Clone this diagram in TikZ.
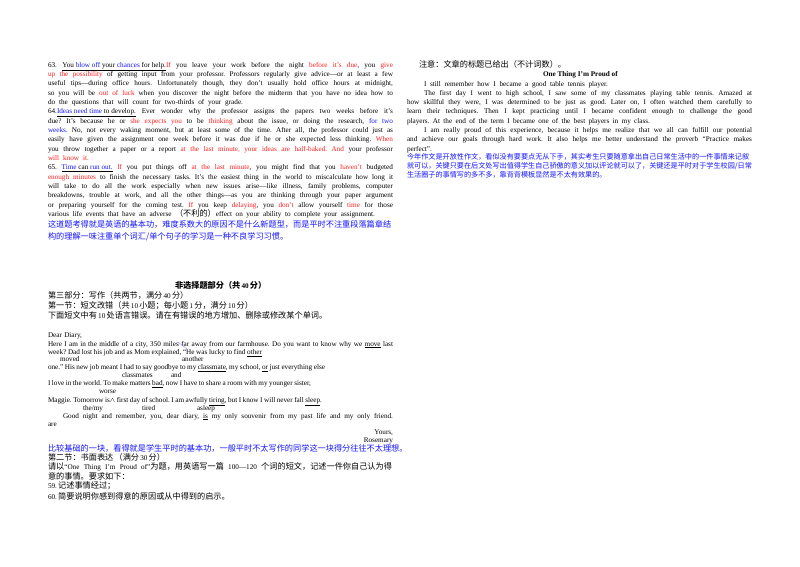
\documentclass[tikz,border=0pt]{standalone}
\usepackage{xcolor}
\usepackage{fontspec}
\setmainfont{Liberation Serif}
\newfontfamily\cjk[Scale=1.135]{Noto Sans CJK SC}
\newfontfamily\cjksmall[Scale=0.99]{Noto Sans CJK SC}
\XeTeXlinebreaklocale "zh"
\XeTeXlinebreakskip=0pt plus 2pt minus 0.5pt
\definecolor{notered}{RGB}{255,30,30}
\definecolor{noteblue}{RGB}{20,20,255}
\tikzset{txtline/.style={anchor=base west,inner sep=0pt,outer sep=0pt,font=\fontsize{7.2}{8}\selectfont\frenchspacing}}
\newcommand{\cj}[1]{{\cjk #1}}
\newcommand{\cs}[1]{{\cjksmall #1}}
\newcommand{\rd}[1]{\textcolor{notered}{#1}}
\newcommand{\bl}[1]{\textcolor{noteblue}{#1}}
\newcommand{\jl}[5]{\node[txtline] (#1) at (#2,#3) {\makebox[#4pt][s]{#5}};}

\begin{document}
\begin{tikzpicture}[x=1pt,y=-1pt]
  \useasboundingbox (0,0) rectangle (800,566);
  % left column, passage
  \jl{a1}{48}{67}{345}{63. \underline{You \bl{blow off} your \bl{chances} for help.}\rd{If} you leave your work before the night \rd{before it's due}, you \rd{give}}
  \jl{a2}{48}{76.4}{345}{\rd{up the possibility} of getting input from your professor. Professors regularly give advice---or at least a few}
  \jl{a3}{48}{85.7}{345}{useful tips---during office hours. Unfortunately though, they don't usually hold office hours at midnight,}
  \jl{a4}{48}{95}{345}{so you will be \rd{out of luck} when you discover the night before the midterm that you have no idea how to}
  \jl{a5}{48}{104.3}{195}{do the questions that will count for two-thirds of your grade.}
  \jl{a6}{48}{113.6}{345}{64.\underline{\bl{Ideas need time} to develop.} Ever wonder why the professor assigns the papers two weeks before it's}
  \jl{a7}{48}{123}{345}{due? It's because he or \rd{she expects you} to be \rd{thinking} about the issue, or doing the research, \bl{for two}}
  \jl{a8}{48}{132.3}{345}{\bl{weeks.} No, not every waking moment, but at least some of the time. After all, the professor could just as}
  \jl{a9}{48}{141.6}{345}{easily have given the assignment one week before it was due if he or she expected less thinking. \rd{When}}
  \jl{a10}{48}{151}{345}{you throw together a paper or a report \rd{at the last minute, your ideas are half-baked. And} your professor}
  \jl{a11}{48}{160.3}{41}{\rd{will know it.}}
  \jl{a12}{48}{169.8}{345}{65. \underline{\bl{Time} can \bl{run out.}} \rd{If} you put things off \rd{at the last minute}, you might find that you \rd{haven't} budgeted}
  \jl{a13}{48}{179}{345}{\rd{enough minutes} to finish the necessary tasks. It's the easiest thing in the world to miscalculate how long it}
  \jl{a14}{48}{188.4}{345}{will take to do all the work especially when new issues arise---like illness, family problems, computer}
  \jl{a15}{48}{197.7}{345}{breakdowns, trouble at work, and all the other things---as you are thinking through your paper argument}
  \jl{a16}{48}{207}{345}{or preparing yourself for the coming test. \rd{If} you keep \rd{delaying}, you \rd{don't} allow yourself \rd{time} for those}
  \jl{a17}{48}{216.4}{327}{various life events that have an adverse \cj{（不利的）}effect on your ability to complete your assignment.}
  \jl{a18}{48}{227.5}{344}{\bl{\cj{这道题考得就是英语的基本功，难度系数大的原因不是什么新题型，而是平时不注重段落篇章结}}}
  \jl{a19}{48}{239}{234}{\bl{\cj{构的理解一味注重单个词汇/单个句子的学习是一种不良学习习惯。}}}
  % left column, writing section
  \jl{b1}{175}{288}{87}{\bfseries\cj{非选择题部分（共} 40 \cj{分）}}
  \jl{b2}{48}{298.5}{136}{\cj{第三部分：写作（共两节，满分} 40 \cj{分）}}
  \jl{b3}{48}{308}{203}{\cj{第一节：短文改错（共} 10 \cj{小题；每小题} 1 \cj{分，满分} 10 \cj{分）}}
  \jl{b4}{48}{318}{273}{\cj{下面短文中有} 10 \cj{处语言错误。请在有错误的地方增加、删除或修改某个单词。}}
  \jl{c1}{48}{337}{34}{Dear Diary,}
  \jl{c2}{48}{346}{345}{Here I am in the middle of a city, 350 miles far away from our farmhouse. Do you want to know why we \underline{move} last}
  \jl{c3}{48}{354.5}{214}{week? Dad lost his job and as Mom explained, ``He was lucky to find \underline{other}}
  \node[txtline] (c4) at (60,361.5) {moved};
  \node[txtline] (c5) at (182,361.5) {another};
  \jl{c6}{48}{369.5}{277}{one.'' His new job meant I had to say goodbye to my \underline{classmate}, my school, \underline{or} just everything else}
  \node[txtline] (c7) at (122,377.5) {classmates};
  \node[txtline] (c8) at (171,377.5) {and};
  \jl{c9}{48}{385.5}{263}{I love in the world. To make matters \underline{bad}, now I have to share a room with my younger sister,}
  \node[txtline] (c10) at (99,393.5) {worse};
  \jl{c11}{48}{402}{274}{Maggie. Tomorrow is$\wedge$ first day of school. I am awfully \underline{tiring}, but I know I will never fall \underline{sleep}.}
  \node[txtline] (c12) at (83,410) {the/my};
  \node[txtline] (c13) at (142,410) {tired};
  \node[txtline] (c14) at (197,410) {asleep};
  \jl{c15}{63}{418}{330}{Good night and remember, you, dear diary, \underline{is} my only souvenir from my past life and my only friend.}
  \node[txtline] (c16) at (48,426.5) {are};
  \node[txtline,anchor=base east] (c17) at (393,434.5) {Yours,};
  \node[txtline,anchor=base east] (c18) at (393,442.5) {Rosemary};
  \jl{c19}{48}{451}{308}{\bl{\cj{比较基础的一块，看得就是学生平时的基本功，一般平时不太写作的同学这一块得分往往不太理想。}}}
  \jl{d1}{48}{460}{114}{\cj{第二节：书面表达 （满分} 30 \cj{分）}}
  \jl{d2}{48}{469.5}{344}{\cj{请以}``One Thing I'm Proud of''\cj{为题，用英语写一篇} 100---120 \cj{个词的短文，记述一件你自己认为得}}
  \jl{d3}{48}{479}{75}{\cj{意的事情。要求如下：}}
  \jl{d4}{48}{488.5}{65}{59. \cj{记述事情经过；}}
  \jl{d5}{48}{499}{177}{60. \cj{简要说明你感到得意的原因或从中得到的启示。}}
  \draw[noteblue!50,thin] (178,342) -- (187,349);
  % right column
  \jl{e1}{419}{67}{140}{\cj{注意：文章的标题已给出（不计词数）。}}
  \node[txtline,font=\fontsize{7.2}{8}\selectfont\bfseries] (e2) at (543,76.7) {One Thing I'm Proud of};
  \jl{e3}{424}{86}{184}{I still remember how I became a good table tennis player.}
  \jl{e4}{424}{95.3}{328}{The first day I went to high school, I saw some of my classmates playing table tennis. Amazed at}
  \jl{e5}{407}{104.6}{345}{how skillful they were, I was determined to be just as good. Later on, I often watched them carefully to}
  \jl{e6}{407}{113.9}{345}{learn their techniques. Then I kept practicing until I became confident enough to challenge the good}
  \jl{e7}{407}{123.2}{243}{players. At the end of the term I became one of the best players in my class.}
  \jl{e8}{424}{132.5}{328}{I am really proud of this experience, because it helps me realize that we all can fulfill our potential}
  \jl{e9}{407}{141.8}{345}{and achieve our goals through hard work. It also helps me better understand the proverb ``Practice makes}
  \jl{e10}{407}{151}{28}{perfect''.}
  \jl{e11}{407}{159}{344}{\bl{\cs{今年作文是开放性作文，看似没有要要点无从下手，其实考生只要随意拿出自己日常生活中的一件事情来记叙}}}
  \jl{e12}{407}{168}{344}{\bl{\cs{就可以，关键只要在后文处写出值得学生自己骄傲的意义加以评论就可以了，关键还是平时对于学生校园/日常}}}
  \jl{e13}{407}{177}{195}{\bl{\cs{生活圈子的事情写的多不多，靠背背模板显然是不太有效果的。}}}
\end{tikzpicture}
\end{document}
